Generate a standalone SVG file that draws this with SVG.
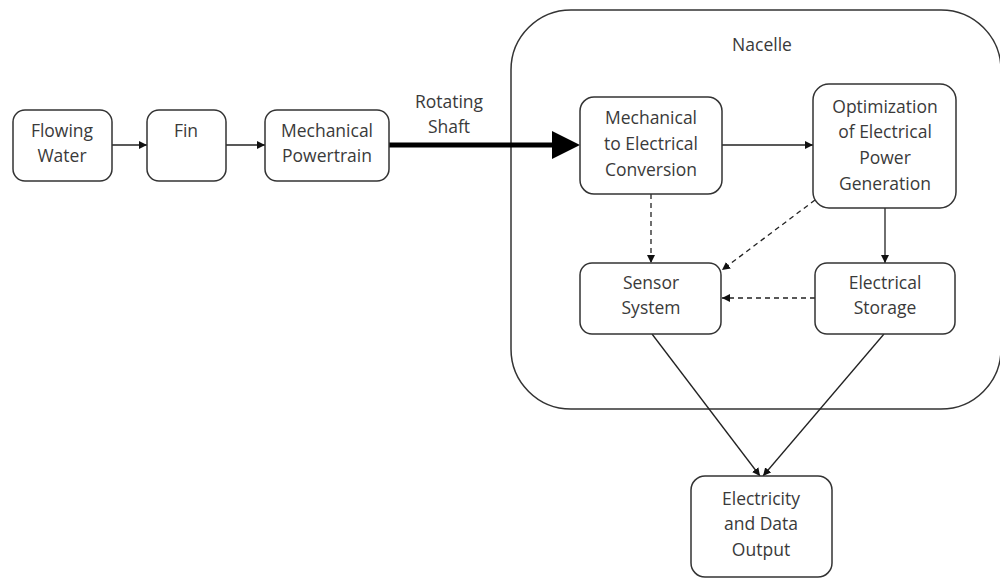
<svg xmlns="http://www.w3.org/2000/svg" width="1000" height="578" viewBox="0 0 1000 578">
<style>
.box{fill:#fff;stroke:#333;stroke-width:1.5}
.t{font-family:"Open Sans","Liberation Sans",sans-serif;font-size:17.5px;fill:#3a3a3a;text-anchor:middle}
.c{stroke:#222;stroke-width:1.3;fill:none}
.d{stroke:#222;stroke-width:1.3;fill:none;stroke-dasharray:5,4}
</style>
<defs>
<marker id="ah" viewBox="0 0 10 10" refX="10" refY="5" markerWidth="8" markerHeight="8" markerUnits="userSpaceOnUse" orient="auto"><path d="M0,0 L10,5 L0,10 z" fill="#111"/></marker>
</defs>
<rect width="1000" height="578" fill="#fff"/>
<g id="nacelle">
<rect class="box" x="511" y="10" width="490" height="399" rx="60" ry="60"/>
<text class="t" x="762" y="51">Nacelle</text>
</g>
<g id="connectors">
<line class="c" x1="112" y1="145" x2="147" y2="145" marker-end="url(#ah)"/>
<line class="c" x1="226" y1="145" x2="265" y2="145" marker-end="url(#ah)"/>
<line x1="389" y1="145" x2="556" y2="145" stroke="#000" stroke-width="5"/>
<path d="M552,131 L580,145 L552,159 z" fill="#000"/>
<line class="c" x1="722" y1="145" x2="813" y2="145" marker-end="url(#ah)"/>
<line class="d" x1="651" y1="194" x2="651" y2="263" marker-end="url(#ah)"/>
<line class="d" x1="815" y1="200" x2="722" y2="270" marker-end="url(#ah)"/>
<line class="d" x1="815" y1="298" x2="722" y2="298" marker-end="url(#ah)"/>
<line class="c" x1="885" y1="208" x2="885" y2="263" marker-end="url(#ah)"/>
<line class="c" x1="652" y1="334" x2="760" y2="476" marker-end="url(#ah)"/>
<line class="c" x1="884" y1="334" x2="763" y2="476" marker-end="url(#ah)"/>
</g>
<g id="label-shaft">
<text class="t" x="449" y="108">Rotating</text>
<text class="t" x="449" y="133">Shaft</text>
</g>
<g id="flowing-water">
<rect class="box" x="13" y="110" width="99" height="71" rx="12"/>
<text class="t" x="62" y="137">Flowing</text>
<text class="t" x="62" y="162">Water</text>
</g>
<g id="fin">
<rect class="box" x="147" y="110" width="79" height="71" rx="12"/>
<text class="t" x="186" y="137">Fin</text>
</g>
<g id="powertrain">
<rect class="box" x="265" y="110" width="124" height="71" rx="12"/>
<text class="t" x="327" y="137">Mechanical</text>
<text class="t" x="327" y="162">Powertrain</text>
</g>
<g id="mec">
<rect class="box" x="580" y="97" width="142" height="97" rx="14"/>
<text class="t" x="651" y="124">Mechanical</text>
<text class="t" x="651" y="150">to Electrical</text>
<text class="t" x="651" y="176">Conversion</text>
</g>
<g id="optimization">
<rect class="box" x="813" y="84" width="143" height="124" rx="16"/>
<text class="t" x="885" y="113">Optimization</text>
<text class="t" x="885" y="138">of Electrical</text>
<text class="t" x="885" y="164">Power</text>
<text class="t" x="885" y="190">Generation</text>
</g>
<g id="sensor">
<rect class="box" x="580" y="263" width="141" height="71" rx="12"/>
<text class="t" x="651" y="289">Sensor</text>
<text class="t" x="651" y="314">System</text>
</g>
<g id="storage">
<rect class="box" x="815" y="263" width="140" height="71" rx="12"/>
<text class="t" x="885" y="289">Electrical</text>
<text class="t" x="885" y="314">Storage</text>
</g>
<g id="output">
<rect class="box" x="691" y="476" width="141" height="101" rx="14"/>
<text class="t" x="761" y="505">Electricity</text>
<text class="t" x="761" y="530">and Data</text>
<text class="t" x="761" y="556">Output</text>
</g>
</svg>
